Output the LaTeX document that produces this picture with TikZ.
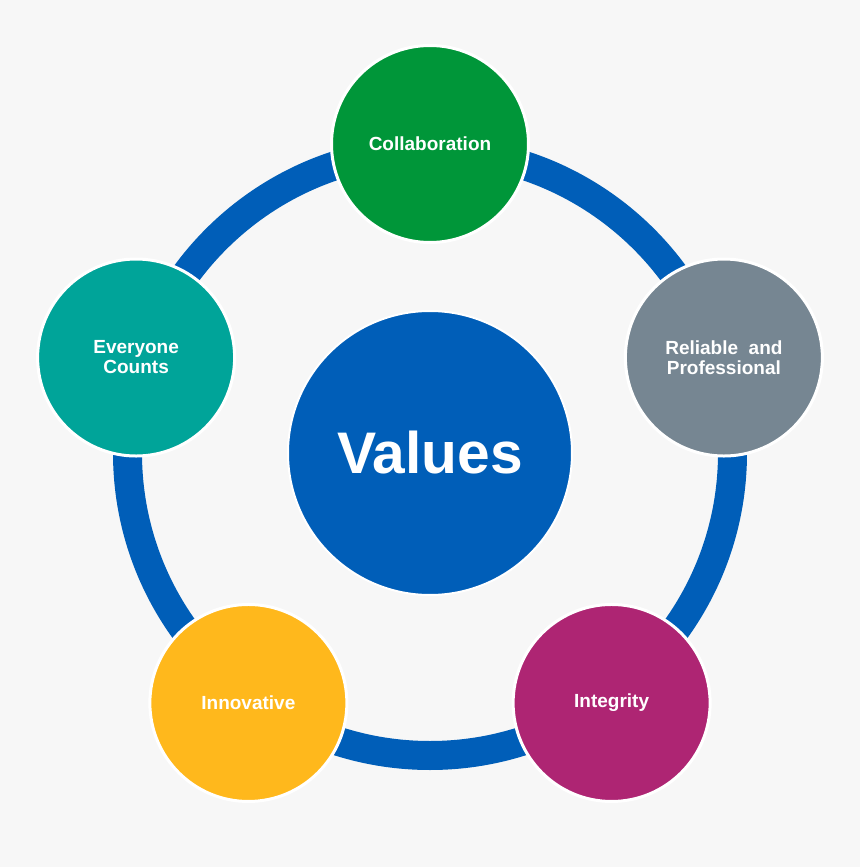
\documentclass[tikz,border=0pt]{standalone}
\usepackage{fontspec}
\setmainfont{Liberation Sans}
\definecolor{pagegray}{HTML}{F7F7F7}
\definecolor{nhsblue}{HTML}{005EB8}
\definecolor{nhsgreen}{HTML}{009639}
\definecolor{nhsgrey}{HTML}{768692}
\definecolor{nhspink}{HTML}{AE2573}
\definecolor{nhsyellow}{HTML}{FFB81C}
\definecolor{nhsaqua}{HTML}{00A499}

\begin{document}
\begin{tikzpicture}[x=0.75pt,y=0.75pt,
  value/.style={circle,draw=white,line width=2.25pt,minimum size=147.75pt,inner sep=0pt,
    text=white,align=center,font=\fontsize{14.25}{15}\selectfont\bfseries}]
\fill[pagegray] (-430,-414) rectangle (430,453);
\draw[nhsblue,line width=21.75pt] (0,0) circle [radius=226.875pt];
\node[circle,fill=nhsblue,draw=white,line width=1.5pt,minimum size=213pt,text=white,
  font=\fontsize{44}{44}\selectfont\bfseries] (values) at (0,0) {Values};
\foreach \a/\c/\n/\t in {90/nhsgreen/collab/Collaboration,
    18/nhsgrey/reliable/{Reliable~~and\\Professional},
    -54/nhspink/integrity/Integrity,
    -126/nhsyellow/innovative/Innovative,
    162/nhsaqua/everyone/{Everyone\\Counts}}
  \node[value,fill=\c] (\n) at (\a:309) {\t};
\end{tikzpicture}
\end{document}
